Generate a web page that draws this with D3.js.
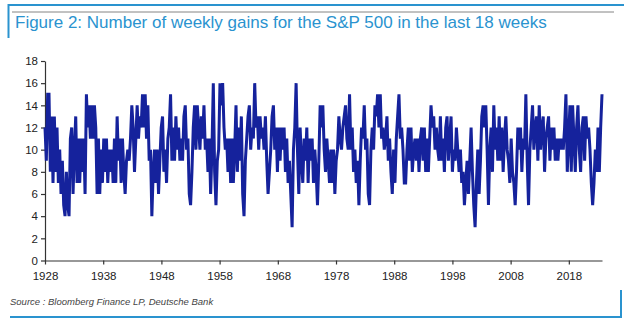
<!DOCTYPE html>
<html>
<head>
<meta charset="utf-8">
<script src="https://cdn.jsdelivr.net/npm/d3@7"></script>
<style>
  body { margin: 0; background: #fff; }
  svg { display: block; font-family: "Liberation Sans", Arial, sans-serif; }
</style>
</head>
<body>
<svg id="chart"></svg>
<script>
// Number of up weeks in trailing 18 weeks (evenly spaced samples)
const gains = [
  12,9,15,15,8,13,7,13,8,12,7,10,6,9,5,4,8,5,4,11,12,6,10,13,7,11,7,11,8,11,6,15,12,14,11,14,11,14,12,6,
  11,6,10,7,11,8,11,7,10,8,10,7,11,7,13,9,11,7,11,8,6,9,10,9,11,14,12,8,11,14,11,13,12,15,12,15,11,14,9,10,
  4,8,10,7,10,6,9,12,13,8,10,7,11,12,15,9,12,9,13,10,12,9,11,9,13,14,10,11,6,5,8,12,14,10,14,12,10,13,11,14,
  10,11,8,11,6,10,16,8,5,
  9,10,16,14,16,12,10,11,8,11,7,11,7,10,14,8,12,9,13,6,4,9,11,13,14,10,12,11,16,12,13,10,13,11,12,10,13,9,6,8,
  10,13,14,10,12,8,12,9,12,10,12,8,11,7,9,6,3,10,12,16,10,6,12,9,7,11,9,12,7,11,9,11,7,10,8,5,9,14,12,14,
  10,8,11,9,7,10,7,10,6,9,10,13,11,10,12,13,14,11,10,15,10,12,8,10,7,9,5,9,12,11,14,10,11,6,5,10,12,10,14,13,
  15,12,15,11,12,10,11,13,9,11,8,6,10,7,11,13,
  15,11,12,10,7,7,10,12,9,12,8,10,11,9,11,8,11,12,9,12,8,11,8,11,14,12,13,10,12,10,9,13,9,11,8,12,13,9,11,13,
  8,10,9,12,10,8,10,7,8,5,7,9,6,9,12,8,5,3,7,10,6,9,13,14,12,14,10,5,10,12,8,14,10,12,9,13,9,12,8,11,
  13,10,9,7,11,8,7,5,8,12,10,12,8,11,10,15,9,5,10,12,14,10,12,13,9,14,10,12,13,8,11,12,13,9,12,10,12,9,11,9,
  11,10,11,10,12,15,8,11,14,8,14,11,8,12,14,10,8,12,13,9,13,11,12,10,7,5,7,10,8,12,8,12,15
];
const firstYear = 1928;
const lastYear = 2023.7;
const xTickYears = [1928, 1938, 1948, 1958, 1968, 1978, 1988, 1998, 2008, 2018];
const yTickValues = [0, 2, 4, 6, 8, 10, 12, 14, 16, 18];
const titleText = 'Figure 2: Number of weekly gains for the S&P 500 in the last 18 weeks';
const sourceText = 'Source : Bloomberg Finance LP, Deutsche Bank';

class WeeklyGainsChart {
    constructor(_config, _data) {
        this.config = {
            parentElement: _config.parentElement,
            containerWidth: _config.containerWidth || 624,
            containerHeight: _config.containerHeight || 326,
            margin: _config.margin || {top: 61, right: 22, bottom: 65.5, left: 45},
        };
        this.data = _data;
        this.initVis();
    }

    initVis() {
        let vis = this;

        vis.width = vis.config.containerWidth - vis.config.margin.left - vis.config.margin.right;
        vis.height = vis.config.containerHeight - vis.config.margin.top - vis.config.margin.bottom;

        vis.svg = d3.select(vis.config.parentElement)
            .attr('width', vis.config.containerWidth)
            .attr('height', vis.config.containerHeight);

        // frame bits: top blue rule, left tab, bottom rule and right tab
        const blue = '#2a93cf';
        vis.svg.append('line').attr('x1', 8).attr('x2', 624).attr('y1', 5).attr('y2', 5)
            .attr('stroke', blue).attr('stroke-width', 2);
        vis.svg.append('line').attr('x1', 12).attr('x2', 614).attr('y1', 12).attr('y2', 12)
            .attr('stroke', '#666').attr('stroke-width', 0.8);
        vis.svg.append('line').attr('x1', 8.5).attr('x2', 8.5).attr('y1', 4).attr('y2', 38)
            .attr('stroke', blue).attr('stroke-width', 2);
        vis.svg.append('line').attr('x1', 10).attr('x2', 622).attr('y1', 317).attr('y2', 317)
            .attr('stroke', blue).attr('stroke-width', 2);
        vis.svg.append('line').attr('x1', 621).attr('x2', 621).attr('y1', 290).attr('y2', 318)
            .attr('stroke', blue).attr('stroke-width', 2);

        vis.svg.append('text')
            .attr('x', 15).attr('y', 28)
            .style('font-size', '17px')
            .style('fill', blue)
            .text(titleText);

        vis.svg.append('text')
            .attr('x', 10).attr('y', 305)
            .style('font-size', '9.5px')
            .style('font-style', 'italic')
            .style('fill', '#444')
            .text(sourceText);

        vis.chart = vis.svg.append('g')
            .attr('transform', `translate(${vis.config.margin.left},${vis.config.margin.top})`);

        vis.xScale = d3.scaleLinear()
            .domain([firstYear, lastYear])
            .range([0, vis.width]);

        vis.yScale = d3.scaleLinear()
            .domain([0, 18])
            .range([vis.height, 0]);

        vis.xAxis = d3.axisBottom(vis.xScale)
            .tickValues(xTickYears)
            .tickFormat(d3.format('d'))
            .tickSize(4)
            .tickSizeOuter(0);

        vis.yAxis = d3.axisLeft(vis.yScale)
            .tickValues(yTickValues)
            .tickSize(4)
            .tickSizeOuter(0);

        vis.xAxisG = vis.chart.append('g')
            .attr('transform', `translate(0,${vis.height})`);
        vis.yAxisG = vis.chart.append('g');

        vis.renderVis();
    }

    renderVis() {
        let vis = this;

        const step = (lastYear - firstYear) / (vis.data.length - 1);
        const line = d3.line()
            .x((d, i) => vis.xScale(firstYear + i * step))
            .y(d => vis.yScale(d));

        vis.chart.append('path')
            .datum(vis.data)
            .attr('fill', 'none')
            .attr('stroke', '#15229c')
            .attr('stroke-width', 3)
            .attr('stroke-linejoin', 'miter')
            .attr('d', line);

        vis.xAxisG.call(vis.xAxis);
        vis.yAxisG.call(vis.yAxis);

        vis.chart.selectAll('.domain, .tick line')
            .attr('stroke', '#333')
            .attr('stroke-width', 1.2);
        vis.chart.selectAll('.tick text')
            .style('font-size', '11.5px')
            .style('font-family', '"Liberation Sans", Arial, sans-serif')
            .attr('fill', '#222');
        vis.xAxisG.selectAll('.tick text').attr('dy', '1.1em');
        vis.yAxisG.selectAll('.tick text').attr('x', -7);
    }
}

new WeeklyGainsChart({parentElement: '#chart'}, gains);
</script>
</body>
</html>
